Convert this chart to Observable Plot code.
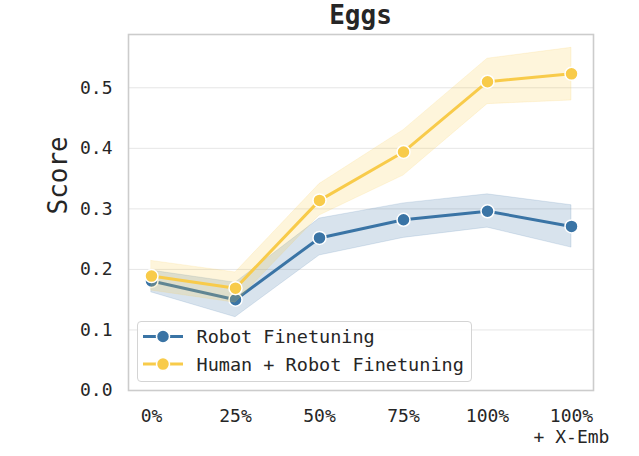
<!DOCTYPE html>
<html>
<head>
<meta charset="utf-8">
<script src="https://cdn.jsdelivr.net/npm/d3@7"></script>
<script src="https://cdn.jsdelivr.net/npm/@observablehq/plot@0.6"></script>
<style>
  html, body { margin: 0; padding: 0; background: #fff; }
  #wrap { position: relative; width: 639px; height: 456px; font-family: "DejaVu Sans Mono", monospace; color: #262626; }
  #title { position: absolute; left: 0; width: 721px; top: 0; text-align: center; font-weight: bold; font-size: 26px; line-height: 30px; }
  #legend { position: absolute; left: 137px; top: 321px; width: 333px; height: 59px; background: rgba(255,255,255,0.85); border: 1px solid #d4d4d4; border-radius: 4px; }
</style>
</head>
<body>
<div id="wrap">
  <div id="chart"></div>
  <div id="title">Eggs</div>
  <div id="legend"></div>
</div>
<script>
const categories = ["0%", "25%", "50%", "75%", "100%", "100%\n+ X-Emb"];
const seriesNames = ["Robot Finetuning", "Human + Robot Finetuning"];
const seriesColors = ["#3a74a5", "#f8cb4a"];

const robotMean = [0.181, 0.150, 0.252, 0.282, 0.296, 0.271];
const robotLo   = [0.162, 0.121, 0.223, 0.252, 0.269, 0.236];
const robotHi   = [0.198, 0.178, 0.284, 0.309, 0.324, 0.306];

const humanMean = [0.189, 0.169, 0.314, 0.394, 0.510, 0.523];
const humanLo   = [0.165, 0.145, 0.289, 0.355, 0.473, 0.479];
const humanHi   = [0.214, 0.195, 0.341, 0.430, 0.548, 0.566];

const yTicks = [0.0, 0.1, 0.2, 0.3, 0.4, 0.5];
const yLabel = "Score";

const toRows = (mean, lo, hi) => categories.map((c, i) => ({x: c, y: mean[i], lo: lo[i], hi: hi[i]}));
const robot = toRows(robotMean, robotLo, robotHi);
const human = toRows(humanMean, humanLo, humanHi);

function seriesMarks(data, color) {
  return [
    Plot.areaY(data, {x: "x", y1: "lo", y2: "hi", fill: color, fillOpacity: 0.2, stroke: color, strokeOpacity: 0.15, strokeWidth: 1}),
    Plot.line(data, {x: "x", y: "y", stroke: color, strokeWidth: 3}),
    Plot.dot(data, {x: "x", y: "y", fill: color, stroke: "white", strokeWidth: 1.5, r: 6.5})
  ];
}

const chart = Plot.plot({
  width: 639,
  height: 456,
  marginTop: 34,
  marginBottom: 66,
  marginLeft: 128,
  marginRight: 46,
  style: {fontFamily: "DejaVu Sans Mono", color: "#262626", background: "white"},
  x: {type: "point", domain: categories, padding: 0.25},
  y: {domain: [0, 0.588]},
  marks: [
    Plot.gridY(yTicks, {stroke: "#e6e6e6", strokeOpacity: 1, strokeWidth: 1}),
    Plot.axisY(yTicks, {tickSize: 0, tickPadding: 16, fontSize: 18, tickFormat: d3.format(".1f"), label: null}),
    Plot.axisX({tickSize: 0, tickPadding: 16, fontSize: 18, lineHeight: 1.2, label: null}),
    Plot.text([yLabel], {frameAnchor: "left", dx: -70, dy: 2, rotate: -90, fontSize: 26, fill: "#262626"}),
    ...seriesMarks(robot, seriesColors[0]),
    ...seriesMarks(human, seriesColors[1]),
    Plot.frame({stroke: "#cccccc", strokeWidth: 1.6})
  ]
});
document.getElementById("chart").appendChild(chart);

// legend
const lg = d3.select("#legend").append("svg").attr("width", 333).attr("height", 59)
  .style("font-family", "DejaVu Sans Mono");
seriesNames.forEach((name, i) => {
  const cy = 14.5 + i * 27.6;
  const g = lg.append("g");
  g.append("line").attr("x1", 5).attr("x2", 45).attr("y1", cy).attr("y2", cy)
    .attr("stroke", seriesColors[i]).attr("stroke-width", 3);
  g.append("circle").attr("cx", 25).attr("cy", cy).attr("r", 6.5)
    .attr("fill", seriesColors[i]).attr("stroke", "white").attr("stroke-width", 1.5);
  g.append("text").attr("x", 58.5).attr("y", cy).attr("dy", "0.35em")
    .attr("font-size", 18.5).attr("fill", "#262626").text(name);
});
</script>
</body>
</html>
